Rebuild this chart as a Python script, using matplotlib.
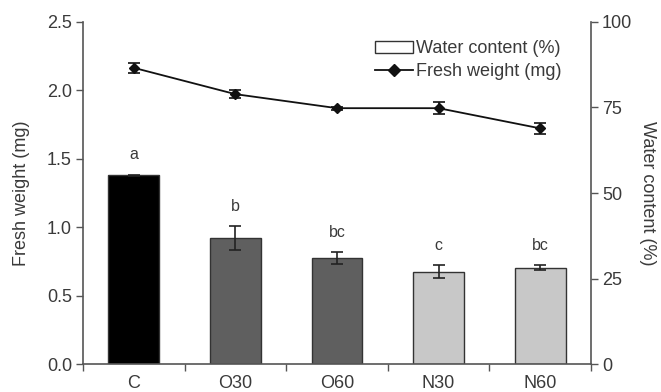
import matplotlib
matplotlib.use("Agg")
import matplotlib.pyplot as plt
from matplotlib.patches import Patch
from matplotlib.lines import Line2D
import numpy as np

plt.rcParams['font.family'] = ['Liberation Sans', 'DejaVu Sans']

categories = ["C", "O30", "O60", "N30", "N60"]
fresh_weight = [1.38, 0.92, 0.775, 0.675, 0.705]      # mg (bars, left axis)
fresh_weight_err = [0.005, 0.09, 0.044, 0.047, 0.02]
water_content = [86.6, 78.9, 74.8, 74.8, 68.9]        # % (line, right axis)
water_content_err = [1.4, 1.2, 0.4, 1.7, 1.7]
letters = ["a", "b", "bc", "c", "bc"]
bar_colors = ["#000000", "#5f5f5f", "#5f5f5f", "#c8c8c8", "#c8c8c8"]

text_col = "#3a3a3a"
spine_col = "#555555"
fs = 13

fig = plt.figure(figsize=(6.61, 3.92), dpi=100)
ax = fig.add_axes([0.1256, 0.0714, 0.7685, 0.8725])
x = np.arange(len(categories))

ax.bar(x, fresh_weight, width=0.5, color=bar_colors, edgecolor="#333333",
       linewidth=1.0, zorder=2)
ax.errorbar(x, fresh_weight, yerr=fresh_weight_err, fmt="none", ecolor="#222222",
            elinewidth=1.2, capsize=4, capthick=1.2, zorder=3)
for xi, v, e, t in zip(x, fresh_weight, fresh_weight_err, letters):
    ax.text(xi, v + e + 0.09, t, ha="center", va="bottom", fontsize=11.5,
            color=text_col)

ax.set_xlim(-0.5, 4.5)
ax.set_ylim(0, 2.5)
ax.set_yticks([0, 0.5, 1.0, 1.5, 2.0, 2.5])
ax.set_yticklabels(["0.0", "0.5", "1.0", "1.5", "2.0", "2.5"])
ax.set_xticks(x)
ax.set_xticklabels(categories)
ax.set_xticks(np.arange(-0.5, 5.0, 1.0), minor=True)
ax.tick_params(axis="x", which="major", length=0, pad=8, labelsize=fs,
               labelcolor=text_col)
ax.tick_params(axis="x", which="minor", length=5, width=1, color=spine_col,
               direction="out")
ax.tick_params(axis="y", length=5, width=1, color=spine_col, labelsize=fs,
               labelcolor=text_col, pad=3)
ax.set_ylabel("Fresh weight (mg)", fontsize=fs, color=text_col, labelpad=12)
for s in ["top", "right"]:
    ax.spines[s].set_visible(False)
for s in ["left", "bottom"]:
    ax.spines[s].set_color(spine_col)
    ax.spines[s].set_linewidth(1.2)

ax2 = ax.twinx()
ax2.set_ylim(0, 100)
ax2.errorbar(x, water_content, yerr=water_content_err, color="#111111",
             marker="D", markersize=5, linewidth=1.3, elinewidth=1.2, capsize=4,
             capthick=1.2, zorder=4)
ax2.set_yticks([0, 25, 50, 75, 100])
ax2.tick_params(axis="y", length=5, width=1, color=spine_col, labelsize=fs,
                labelcolor=text_col, pad=3)
ax2.set_ylabel("Water content (%)", fontsize=fs, color=text_col, rotation=-90,
               labelpad=17)
for s in ["top", "left", "bottom"]:
    ax2.spines[s].set_visible(False)
ax2.spines["right"].set_color(spine_col)
ax2.spines["right"].set_linewidth(1.2)

handles = [Patch(facecolor="white", edgecolor="#333333", linewidth=1.0),
           Line2D([], [], color="#111111", marker="D", markersize=6, linewidth=1.3)]
leg = ax2.legend(handles, ["Water content (%)", "Fresh weight (mg)"],
                 loc="upper right", bbox_to_anchor=(576 / 661, 1 - 26 / 392),
                 bbox_transform=fig.transFigure, frameon=False,
                 fontsize=fs, handlelength=2.1, handletextpad=0.15,
                 labelspacing=0.3, borderpad=0.3)
for t in leg.get_texts():
    t.set_color(text_col)

fig.savefig("out.png", dpi=100)
